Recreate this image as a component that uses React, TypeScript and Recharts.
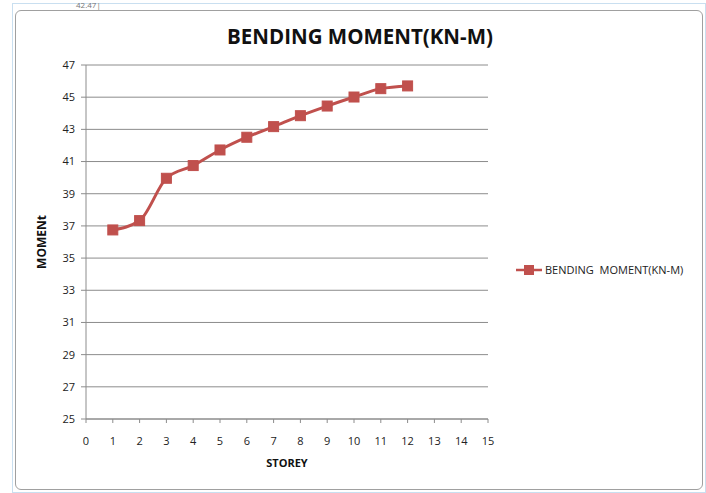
import React from "react";
import { LineChart, Line, XAxis, YAxis, CartesianGrid, Label } from "recharts";

const storeys = [1, 2, 3, 4, 5, 6, 7, 8, 9, 10, 11, 12];
const moments = [36.75, 37.33, 39.96, 40.75, 41.72, 42.51, 43.17, 43.85, 44.45, 45.01, 45.53, 45.7];
const xTicks = [0, 1, 2, 3, 4, 5, 6, 7, 8, 9, 10, 11, 12, 13, 14, 15];
const yTicks = [25, 27, 29, 31, 33, 35, 37, 39, 41, 43, 45, 47];
const seriesName = "BENDING  MOMENT(KN-M)";
const title = "BENDING MOMENT(KN-M)";

const data = storeys.map((s, i) => ({ storey: s, moment: moments[i] }));

const RED = "#C0504D";
const FONT = "'Open Sans', 'Noto Sans', sans-serif";

const Square = (props: any) => {
  const { cx, cy } = props;
  if (cx == null || cy == null) return null;
  return <rect x={cx - 5} y={cy - 5} width={10} height={10} fill={RED} stroke={RED} />;
};

export default function App() {
  return (
    <div style={{ position: "absolute", left: 0, top: 0, width: 706, height: 493, background: "#fff", overflow: "hidden" }}>
      <div style={{ position: "absolute", left: 12, top: 3, width: 692, height: 488, border: "1px solid #c9dff0", background: "#fff" }} />
      <div style={{ position: "absolute", left: 15, top: 10, width: 686, height: 478, border: "1px solid #a0a0a0", borderRadius: 6, background: "#fff" }} />
      <div style={{ position: "absolute", left: 76, top: 0, zIndex: 3, fontFamily: FONT, fontSize: 8, lineHeight: "9px", color: "#777" }}>42.47|</div>
      <div style={{ position: "absolute", left: 0, top: 22, width: 720, textAlign: "center", fontFamily: FONT, fontWeight: 700, fontSize: 20.5, color: "#111" }}>
        {title}
      </div>
      <div style={{ position: "absolute", left: 0, top: 0 }}>
        <LineChart width={706} height={493} data={data} margin={{ top: 65, right: 218, bottom: 24, left: 56 }}>
          <CartesianGrid horizontal vertical={false} stroke="#8c8c8c" />
          <XAxis
            dataKey="storey"
            type="number"
            domain={[0, 15]}
            ticks={xTicks}
            interval={0}
            height={50}
            stroke="#8c8c8c"
            tickSize={4}
            tick={{ fontFamily: FONT, fontSize: 11, fill: "#222" }}
            tickMargin={14}
          >
            <Label value="STOREY" position="bottom" offset={-10} style={{ fontFamily: FONT, fontWeight: 700, fontSize: 11, fill: "#111" }} />
          </XAxis>
          <YAxis
            type="number"
            domain={[25, 47]}
            ticks={yTicks}
            interval={0}
            width={30}
            stroke="#8c8c8c"
            tickSize={5}
            tick={{ fontFamily: FONT, fontSize: 11, fill: "#222" }}
            tickMargin={6}
          >
            <Label value="MOMENt" angle={-90} position="insideLeft" offset={-14} style={{ fontFamily: FONT, fontWeight: 700, fontSize: 12, fill: "#111", textAnchor: "middle" }} />
          </YAxis>
          <Line
            type="monotone"
            dataKey="moment"
            name={seriesName}
            stroke={RED}
            strokeWidth={3}
            dot={<Square />}
            activeDot={false}
            isAnimationActive={false}
          />
        </LineChart>
      </div>
      <div style={{ position: "absolute", left: 516, top: 262, display: "flex", alignItems: "center", fontFamily: FONT, fontSize: 11, color: "#222" }}>
        <svg width={26} height={12}>
          <line x1={0} y1={6} x2={26} y2={6} stroke={RED} strokeWidth={2.5} />
          <rect x={8} y={1} width={10} height={10} fill={RED} />
        </svg>
        <span style={{ marginLeft: 3, whiteSpace: "pre" }}>{seriesName}</span>
      </div>
    </div>
  );
}
